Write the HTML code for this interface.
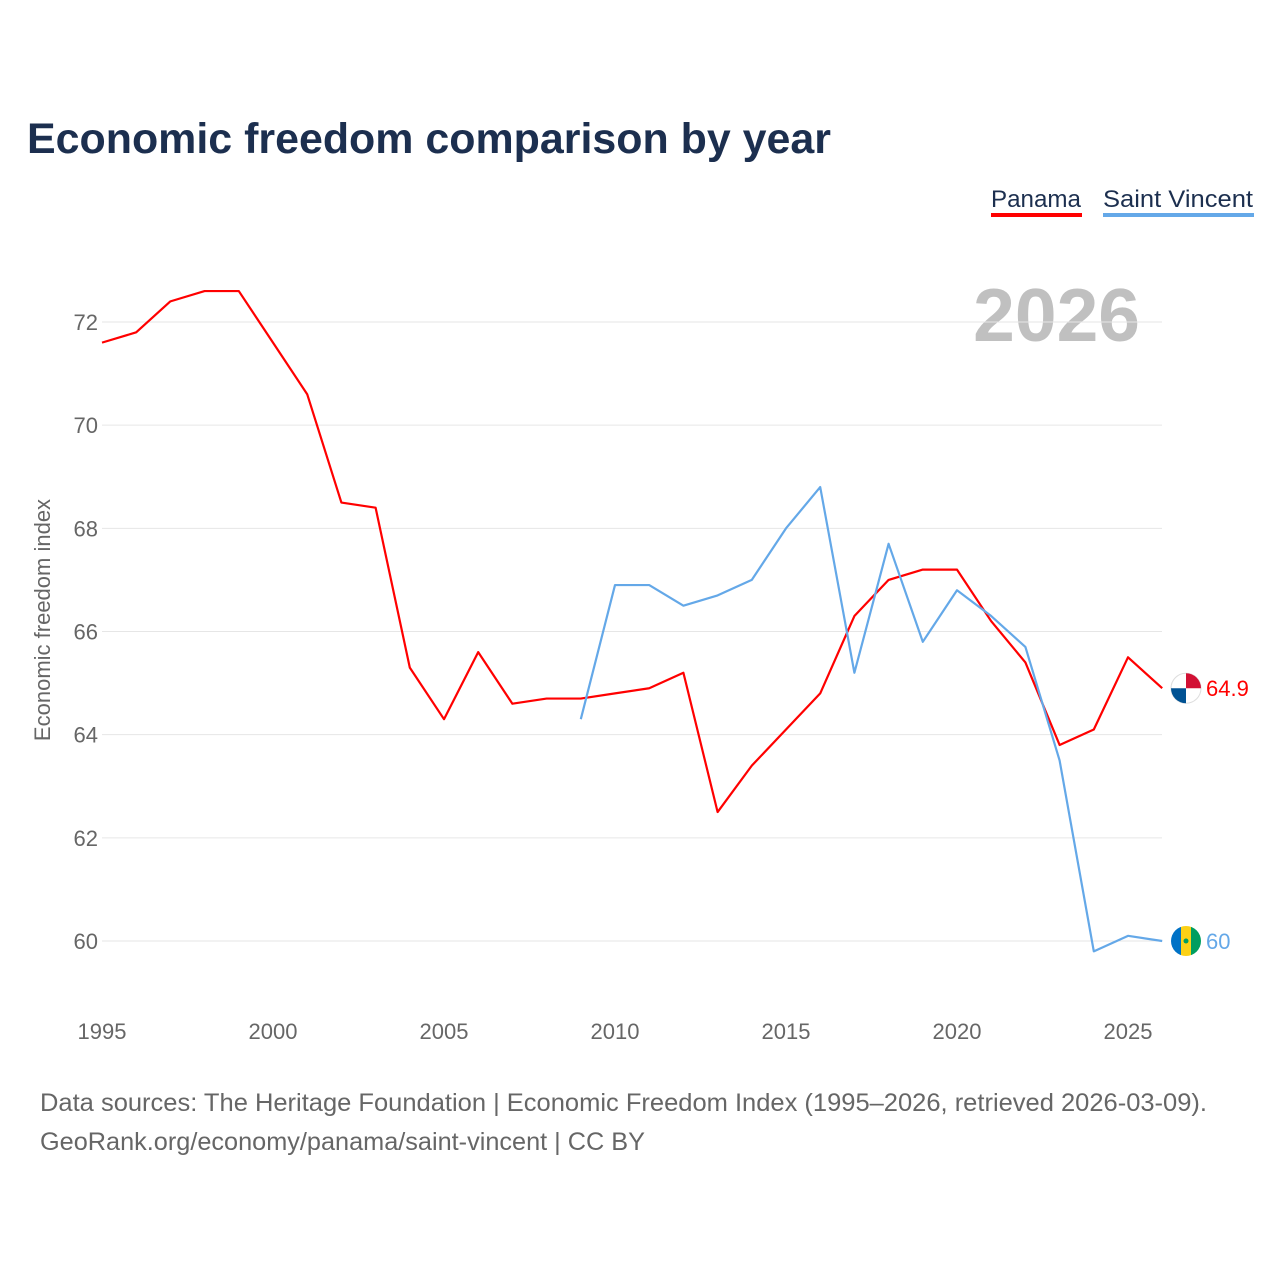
<!DOCTYPE html>
<html><head><meta charset="utf-8"><style>
body{margin:0;background:#fff;font-family:"Liberation Sans",sans-serif;}
#wrap{position:relative;width:1280px;height:1280px;overflow:hidden;}
</style></head><body>
<div id="wrap">
<svg id="chart" width="1280" height="1280" xmlns="http://www.w3.org/2000/svg">
<text x="27" y="153" font-size="43" font-weight="bold" fill="#1c2f4f" textLength="804" lengthAdjust="spacingAndGlyphs">Economic freedom comparison by year</text>
<g>
<text x="991" y="207" font-size="24" fill="#1c2f4f" textLength="90" lengthAdjust="spacingAndGlyphs">Panama</text>
<rect x="991" y="213" width="91" height="4" fill="#ff0000"/>
<text x="1103" y="207" font-size="24" fill="#1c2f4f" textLength="150" lengthAdjust="spacingAndGlyphs">Saint Vincent</text>
<rect x="1103" y="213" width="151" height="4" fill="#64a8e8"/>
</g>
<text x="1140" y="341" font-size="75" font-weight="bold" fill="#c0c0c0" text-anchor="end">2026</text>
<text transform="translate(50,620) rotate(-90)" font-size="22" fill="#666" text-anchor="middle">Economic freedom index</text>
<g id="grid"></g><g id="series"></g>
<text x="40" y="1111" font-size="25" fill="#666" textLength="1167" lengthAdjust="spacingAndGlyphs">Data sources: The Heritage Foundation | Economic Freedom Index (1995–2026, retrieved 2026-03-09).</text>
<text x="40" y="1150" font-size="25" fill="#666" textLength="605" lengthAdjust="spacingAndGlyphs">GeoRank.org/economy/panama/saint-vincent | CC BY</text>
</svg>
</div>
<script>
const years=[1995,1996,1997,1998,1999,2000,2001,2002,2003,2004,2005,2006,2007,2008,2009,2010,2011,2012,2013,2014,2015,2016,2017,2018,2019,2020,2021,2022,2023,2024,2025,2026];
const panama=[71.6,71.8,72.4,72.6,72.6,71.6,70.6,68.5,68.4,65.3,64.3,65.6,64.6,64.7,64.7,64.8,64.9,65.2,62.5,63.4,64.1,64.8,66.3,67.0,67.2,67.2,66.2,65.4,63.8,64.1,65.5,64.9];
const svYears=[2009,2010,2011,2012,2013,2014,2015,2016,2017,2018,2019,2020,2021,2022,2023,2024,2025,2026];
const saintVincent=[64.3,66.9,66.9,66.5,66.7,67.0,68.0,68.8,65.2,67.7,65.8,66.8,66.3,65.7,63.5,59.8,60.1,60.0];
const yTicks=[60,62,64,66,68,70,72];
const xTicks=[1995,2000,2005,2010,2015,2020,2025];
const NS="http://www.w3.org/2000/svg";
const x=v=>102+(v-1995)*(1128-102)/30;
const y=v=>941-(v-60)*(941-322)/12;
function mk(t,a,p){const e=document.createElementNS(NS,t);for(const k in a)e.setAttribute(k,a[k]);p.appendChild(e);return e;}
const grid=document.getElementById('grid'),ser=document.getElementById('series');
yTicks.forEach(t=>{
 const l=mk('line',{x1:102,x2:1162,y1:y(t),y2:y(t),stroke:'#e6e6e6','stroke-width':1},grid);
 
 
 const tx=mk('text',{x:98,y:y(t)+8,'font-size':22,fill:'#666','text-anchor':'end'},grid);tx.textContent=t;
 
 
});
xTicks.forEach(t=>{
 const tx=mk('text',{x:x(t),y:1039,'font-size':22,fill:'#666','text-anchor':'middle'},grid);tx.textContent=t;
 
 
});
function line(xs,vs,c,name){
 const p=mk('polyline',{points:xs.map((yr,i)=>x(yr)+','+y(vs[i])).join(' '),fill:'none',stroke:c,'stroke-width':2.2,'stroke-linejoin':'round'},ser);
 
 
}
line(years,panama,'#ff0000','line-panama');
line(svYears,saintVincent,'#64a8e8','line-saint-vincent');
const pv=panama[panama.length-1],sv=saintVincent[saintVincent.length-1];
const g1=mk('g',{},ser);


const cx=1186;
mk('circle',{cx:cx,cy:y(pv),r:15,fill:'#fff',stroke:'#ddd'},g1);
mk('path',{d:`M${cx} ${y(pv)} L${cx+15} ${y(pv)} A15 15 0 0 0 ${cx} ${y(pv)-15}Z`,fill:'#d21034'},g1);
mk('path',{d:`M${cx} ${y(pv)} L${cx-15} ${y(pv)} A15 15 0 0 0 ${cx} ${y(pv)+15}Z`,fill:'#005293'},g1);
const l1=mk('text',{x:1206,y:y(pv)+8,'font-size':22,fill:'#ff0000'},ser);l1.textContent=pv;


const g2=mk('g',{},ser);


mk('clipPath',{id:'svc'},g2).appendChild(document.createElementNS(NS,'circle'));
const cc=g2.querySelector('clipPath circle');cc.setAttribute('cx',cx);cc.setAttribute('cy',y(sv));cc.setAttribute('r',15);
const fg=mk('g',{'clip-path':'url(#svc)'},g2);
mk('rect',{x:cx-15,y:y(sv)-15,width:10,height:30,fill:'#0072c6'},fg);
mk('rect',{x:cx-5,y:y(sv)-15,width:10,height:30,fill:'#fcd116'},fg);
mk('rect',{x:cx+5,y:y(sv)-15,width:10,height:30,fill:'#009e60'},fg);
mk('circle',{cx:cx,cy:y(sv),r:2.5,fill:'#009e60'},fg);
const l2=mk('text',{x:1206,y:y(sv)+8,'font-size':22,fill:'#64a8e8'},ser);l2.textContent=sv.toFixed(0);


</script>
</body></html>
